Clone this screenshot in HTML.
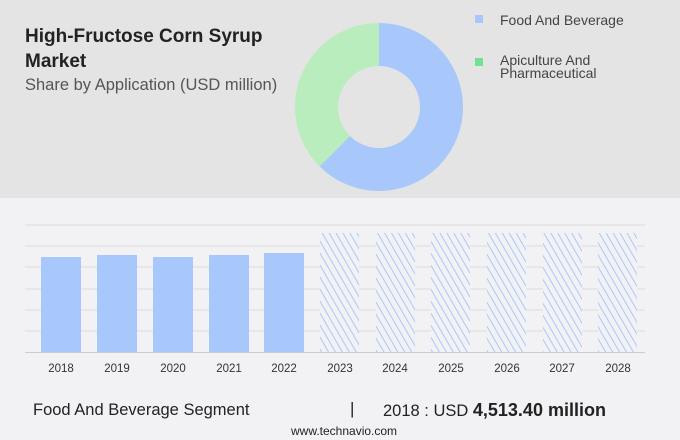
<!DOCTYPE html><html><head><style>
body{margin:0;width:680px;height:440px;position:relative;background:#f2f2f4;font-family:"Liberation Sans",sans-serif;overflow:hidden}
.top{position:absolute;left:0;top:0;width:680px;height:198px;background:#e4e4e4}
.t{position:absolute;color:#222;white-space:nowrap}
</style></head><body>
<div class="top"></div>
<div class="t" style="left:25px;top:24px;font-size:19px;font-weight:bold;line-height:25px">High-Fructose Corn Syrup<br>Market</div>
<div class="t" style="left:25px;top:76px;font-size:16.5px;color:#555">Share by Application (USD million)</div>
<svg style="position:absolute;left:0;top:0" width="680" height="440">
<defs><pattern id="h" width="6" height="6" patternUnits="userSpaceOnUse" patternTransform="rotate(-30)"><rect width="6" height="6" fill="#f2f2f4"/><line x1="0" y1="0" x2="0" y2="6" stroke="#a8c8fb" stroke-width="2"/></pattern></defs>
<path d="M379,23 A84,84 0 1 1 319.6,166.4 L350,136 A41,41 0 1 0 379,66 Z" fill="#a8c8fb"/>
<path d="M319.6,166.4 A84,84 0 0 1 379,23 L379,66 A41,41 0 0 0 350,136 Z" fill="#b9edbd"/>
<rect x="475" y="15" width="8" height="8" fill="#a8c8fb"/>
<rect x="475" y="58" width="8" height="8" fill="#72e192"/>
<g stroke="#dcdcdf" stroke-width="1">
<line x1="25" y1="225" x2="645" y2="225"/><line x1="25" y1="246" x2="645" y2="246"/><line x1="25" y1="267" x2="645" y2="267"/><line x1="25" y1="289" x2="645" y2="289"/><line x1="25" y1="310" x2="645" y2="310"/><line x1="25" y1="331" x2="645" y2="331"/></g>
<g fill="#a8c8fb"><rect x="41" y="257" width="40" height="95"/><rect x="97" y="255" width="40" height="97"/><rect x="153" y="257" width="40" height="95"/><rect x="209" y="255" width="40" height="97"/><rect x="264" y="253" width="40" height="99"/></g>
<g fill="url(#h)"><rect x="320" y="233" width="39" height="119"/><rect x="376" y="233" width="39" height="119"/><rect x="431" y="233" width="39" height="119"/><rect x="487" y="233" width="39" height="119"/><rect x="543" y="233" width="39" height="119"/><rect x="598" y="233" width="39" height="119"/></g>
<line x1="25" y1="352.5" x2="645" y2="352.5" stroke="#ccc"/>
<g font-size="11.5" fill="#333" text-anchor="middle" font-family="Liberation Sans"><text x="61" y="372">2018</text><text x="117" y="372">2019</text><text x="173" y="372">2020</text><text x="229" y="372">2021</text><text x="284" y="372">2022</text><text x="340" y="372">2023</text><text x="395" y="372">2024</text><text x="451" y="372">2025</text><text x="507" y="372">2026</text><text x="562" y="372">2027</text><text x="618" y="372">2028</text></g>
</svg>
<div class="t" style="left:500px;top:12px;font-size:14px;color:#444">Food And Beverage</div>
<div class="t" style="left:500px;top:54px;font-size:14px;color:#444;line-height:13px">Apiculture And<br>Pharmaceutical</div>
<div class="t" style="left:33px;top:401px;font-size:16.5px">Food And Beverage Segment</div>
<div class="t" style="left:350px;top:399px;font-size:17px">|</div>
<div class="t" style="left:383px;top:400px;font-size:16.5px">2018 : USD <b style="font-size:18px">4,513.40 million</b></div>
<div class="t" style="left:291px;top:424px;font-size:12px">www.technavio.com</div>
</body></html>
